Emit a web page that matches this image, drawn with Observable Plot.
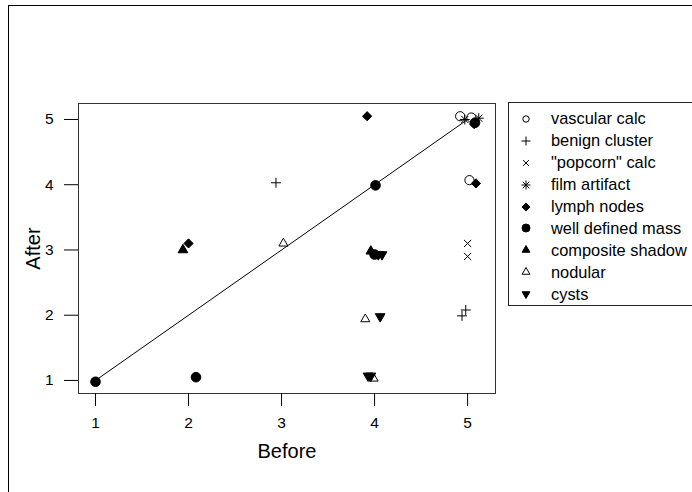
<!DOCTYPE html>
<html><head><meta charset="utf-8">
<script src="https://cdn.jsdelivr.net/npm/d3@7"></script>
<script src="https://cdn.jsdelivr.net/npm/@observablehq/plot@0.6"></script>
<style>
body{margin:0;background:#fff;font-family:"Liberation Sans",Arial,Helvetica,sans-serif;}
#wrap{position:relative;width:692px;height:492px;overflow:hidden;background:#fff;}
#outer{position:absolute;left:8px;top:5px;width:800px;height:600px;border-left:1.5px solid #000;border-top:1.5px solid #000;}
#chart{position:absolute;left:0;top:0;}
#legend{position:absolute;left:508px;top:102px;width:300px;height:204px;border:1px solid #222;box-sizing:border-box;padding-top:5px;}
.row{height:21.9px;display:flex;align-items:center;font-size:16.4px;color:#000;}
.row svg{margin-left:11px;margin-right:19px;}
svg g[aria-label="x-axis label"] text, svg g[aria-label="y-axis label"] text{font-size:20px;}
svg g[aria-label="x-axis tick label"] text, svg g[aria-label="y-axis tick label"] text{font-size:15.5px;}
</style></head><body>
<div id="wrap"><div id="outer"></div><div id="chart"></div><div id="legend"></div></div>
<script>
const categories = ["vascular calc","benign cluster","\"popcorn\" calc","film artifact","lymph nodes","well defined mass","composite shadow","nodular","cysts"];
const before = [4.92,5.04,5.02, 2.94,4.98,4.94, 5.0,5.0, 4.97,5.12, 2.0,3.92,5.07,5.09, 1.0,2.08,4.01,4.0,5.08, 1.94,3.96, 3.02,3.9,3.99, 4.04,4.08,4.06,3.93,3.96];
const after  = [5.05,5.03,4.07, 4.03,2.08,1.99, 3.10,2.90, 5.0,5.02, 3.1,5.05,4.93,4.02, 0.98,1.05,3.99,2.93,4.95, 3.0,2.98, 3.1,1.94,1.03, 2.93,2.93,1.98,1.07,1.07];
const group  = [0,0,0, 1,1,1, 2,2, 3,3, 4,4,4,4, 5,5,5,5,5, 6,6, 7,7,7, 8,8,8,8,8];
const lineX = [1,5];
const lineY = [1,5];
const xTicks = [1,2,3,4,5];
const yTicks = [1,2,3,4,5];

const R = s => Math.sqrt(s/Math.PI);
const symOpenCircle = {draw(c,s){const r=R(s);c.moveTo(r,0);c.arc(0,0,r,0,2*Math.PI);}};
const symPlus = {draw(c,s){const r=R(s);c.moveTo(-r,0);c.lineTo(r,0);c.moveTo(0,-r);c.lineTo(0,r);}};
const symTimes = {draw(c,s){const r=R(s)*0.72;c.moveTo(-r,-r);c.lineTo(r,r);c.moveTo(-r,r);c.lineTo(r,-r);}};
const symAsterisk = {draw(c,s){const r=R(s);const d=r*0.72;c.moveTo(-r,0);c.lineTo(r,0);c.moveTo(0,-r);c.lineTo(0,r);c.moveTo(-d,-d);c.lineTo(d,d);c.moveTo(-d,d);c.lineTo(d,-d);}};
const symDiamond = {draw(c,s){const r=R(s);c.moveTo(0,-r);c.lineTo(r,0);c.lineTo(0,r);c.lineTo(-r,0);c.closePath();}};
const symTriUp = {draw(c,s){const r=R(s);c.moveTo(0,-r);c.lineTo(r*0.87,r*0.5);c.lineTo(-r*0.87,r*0.5);c.closePath();}};
const symTriDown = {draw(c,s){const r=R(s);c.moveTo(0,r);c.lineTo(r*0.87,-r*0.5);c.lineTo(-r*0.87,-r*0.5);c.closePath();}};

const styles = [
  {symbol: symOpenCircle, fill:"none", r:4.6, lr:3.2},
  {symbol: symPlus, fill:"none", r:5, lr:4.5},
  {symbol: symTimes, fill:"none", r:5, lr:4},
  {symbol: symAsterisk, fill:"none", r:5, lr:4.5},
  {symbol: symDiamond, fill:"black", r:4.6, lr:4},
  {symbol: symOpenCircle, fill:"black", r:4.8, lr:4},
  {symbol: symTriUp, fill:"black", r:5.6, lr:4.5},
  {symbol: symTriUp, fill:"none", r:5.2, lr:4.5},
  {symbol: symTriDown, fill:"black", r:5.6, lr:4.5}
];

const idx = d3.range(before.length);
const lineData = lineX.map((x,i)=>({x, y: lineY[i]}));

const chart = Plot.plot({
  width: 692, height: 492,
  marginLeft: 78, marginRight: 197, marginTop: 103, marginBottom: 99,
  x: {domain:[0.817,5.30]},
  y: {domain:[0.80,5.245]},
  style: {fontFamily:'"Liberation Sans",Arial,Helvetica,sans-serif', fontSize:"15px", color:"#000", background:"transparent"},
  marks: [
    Plot.frame({stroke:"#333"}),
    Plot.axisX({ticks:xTicks, tickFormat:d=>String(d), tickSize:13, tickPadding:10, fontSize:15, label:"Before", labelArrow:"none", labelAnchor:"center", labelOffset:64}),
    Plot.axisY({ticks:yTicks, tickFormat:d=>String(d), tickSize:14, tickPadding:11, fontSize:15, label:"After", labelArrow:"none", labelAnchor:"center", labelOffset:53}),
    Plot.line(lineData, {x:"x", y:"y", stroke:"black", strokeWidth:1}),
    ...styles.map((st,k)=>Plot.dot(idx.filter(i=>group[i]===k), {
      x: i=>before[i], y: i=>after[i], symbol: st.symbol, r: st.r,
      fill: st.fill, stroke:"black", strokeWidth:1
    }))
  ]
});
document.getElementById("chart").appendChild(chart);

const legend = d3.select("#legend");
categories.forEach((c,k)=>{
  const st = styles[k];
  const row = legend.append("div").attr("class","row");
  const svg = row.append("svg").attr("width",12).attr("height",12);
  svg.append("path").attr("transform","translate(6,6)")
    .attr("d", d3.symbol(st.symbol, Math.PI*st.lr*st.lr)())
    .attr("fill", st.fill).attr("stroke","black").attr("stroke-width",1);
  row.append("span").text(c);
});
</script>
</body></html>
